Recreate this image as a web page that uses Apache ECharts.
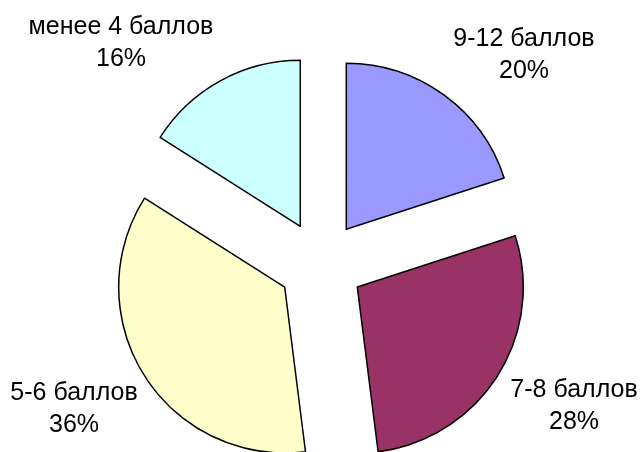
<!DOCTYPE html>
<html>
<head>
<meta charset="utf-8">
<script src="https://cdn.jsdelivr.net/npm/echarts@6/dist/echarts.min.js"></script>
<style>
html,body{margin:0;padding:0;background:#fff;}
#chart{width:641px;height:452px;}
</style>
</head>
<body>
<div id="chart"></div>
<script>
var categories = ['9-12 баллов', '7-8 баллов', '5-6 баллов', 'менее 4 баллов'];
var values = [20, 28, 36, 16];
var colors = ['#9999FF', '#993366', '#FFFFCC', '#CCFFFF'];
// label anchor points (layout only)
var labelAnchors = [[524, 55], [574, 406], [74, 409], [121, 43]];

var total = values.reduce(function (a, b) { return a + b; }, 0);
var chart = echarts.init(document.getElementById('chart'), null, {renderer: 'canvas'});
var data = categories.map(function (c, i) {
  return {name: c, value: values[i], selected: true, itemStyle: {color: colors[i]}};
});
var labels = categories.map(function (c, i) {
  return {
    type: 'text',
    x: labelAnchors[i][0],
    y: labelAnchors[i][1],
    style: {
      text: c + '\n' + Math.round(values[i] / total * 100) + '%',
      fontFamily: 'Liberation Sans, Arial, sans-serif',
      fontSize: 25,
      lineHeight: 32,
      fill: '#000',
      align: 'center',
      verticalAlign: 'middle'
    }
  };
});
chart.setOption({
  animation: false,
  backgroundColor: '#ffffff',
  graphic: labels,
  series: [{
    type: 'pie',
    center: [321, 264],
    radius: 166,
    startAngle: 90,
    clockwise: true,
    selectedMode: 'multiple',
    selectedOffset: 43,
    itemStyle: {borderColor: '#000', borderWidth: 1.5},
    emphasis: {disabled: true},
    label: {show: false},
    labelLine: {show: false},
    data: data
  }]
});
</script>
</body>
</html>
